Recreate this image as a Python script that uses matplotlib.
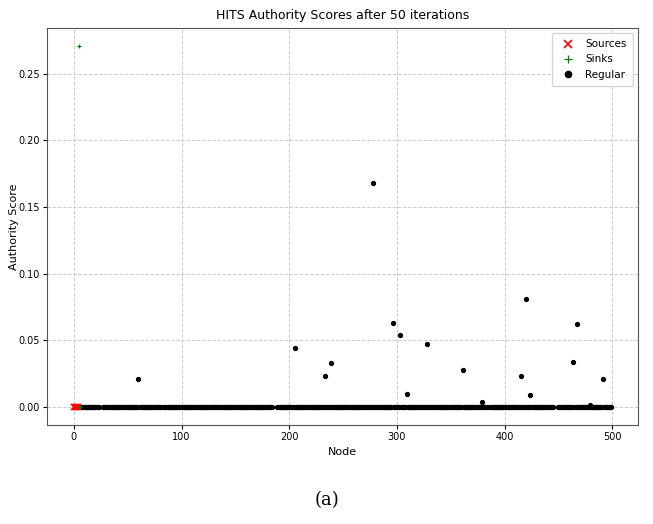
import numpy as np
import matplotlib
matplotlib.use("Agg")
import matplotlib.pyplot as plt

# ── Data ──────────────────────────────────────────────────────────────────────
n_nodes = 500
source_nodes = [0, 1, 2, 3, 4]
source_scores = [0.0, 0.0, 0.0, 0.0, 0.0]
sink_nodes = [5, 6]
sink_scores = [0.271, 0.0]

# regular nodes with a visible (non-zero) authority score
peak_nodes = [60, 205, 233, 239, 278, 296, 303, 309, 328, 361, 379,
              415, 420, 424, 464, 467, 479, 491]
peak_scores = [0.021, 0.044, 0.023, 0.033, 0.168, 0.063, 0.054, 0.0097,
               0.047, 0.028, 0.0037, 0.023, 0.081, 0.0089, 0.0335, 0.062,
               0.0015, 0.021]

# gaps in the zero row (nodes without a plotted regular point)
gap_nodes = [24, 25, 26, 81, 82, 185, 186, 187, 188, 384, 385,
             446, 447, 448, 449]

first_regular = 7
all_nodes = np.arange(first_regular, n_nodes)
reg_nodes = np.array([n for n in all_nodes if n not in gap_nodes])
reg_scores = np.zeros(len(reg_nodes))
for node, s in zip(peak_nodes, peak_scores):
    reg_scores[reg_nodes == node] = s

# ── Figure ────────────────────────────────────────────────────────────────────
plt.rcParams["font.family"] = ["Liberation Sans Narrow", "DejaVu Sans"]

fig = plt.figure(figsize=(6.53, 5.24), dpi=100)
ax = fig.add_axes([0.072, 0.189, 0.905, 0.758])

ax.plot(source_nodes, source_scores, "x", color="red", ms=4, mew=1.2,
        linestyle="none", label="Sources", zorder=3)
ax.plot(sink_nodes, sink_scores, "+", color="green", ms=3.5, mew=0.9,
        linestyle="none", label="Sinks", zorder=3)
ax.plot(reg_nodes, reg_scores, "o", color="black", ms=2.8,
        linestyle="none", label="Regular", zorder=2)

ax.set_title("HITS Authority Scores after 50 iterations", fontsize=9)
ax.set_xlabel("Node", fontsize=8)
ax.set_ylabel("Authority Score", fontsize=8, family="DejaVu Sans")
ax.yaxis.set_label_coords(-0.048, 0.5)
ax.tick_params(labelsize=7, length=3, pad=2)
ax.set_xticks([0, 100, 200, 300, 400, 500])
ax.set_yticks([0.0, 0.05, 0.10, 0.15, 0.20, 0.25])
ax.set_yticklabels(["0.00", "0.05", "0.10", "0.15", "0.20", "0.25"])
ax.grid(True, linestyle="--", color="#cccccc", linewidth=0.7)
for sp in ax.spines.values():
    sp.set_color("#555555")

ax.legend(loc="upper right", fontsize=7.5, markerscale=1.6, framealpha=0.8,
          handletextpad=0.6, borderpad=0.6)

fig.text(0.5, 0.045, "(a)", ha="center", va="center", fontsize=13,
         family="DejaVu Serif")

plt.savefig("out.png", dpi=100)
